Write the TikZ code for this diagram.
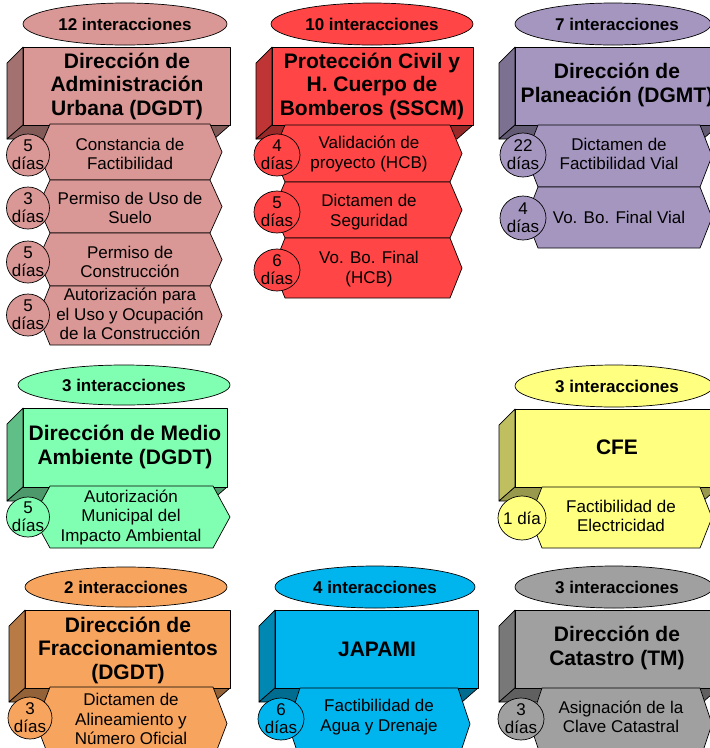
\documentclass[tikz,border=0pt]{standalone}
\usepackage{fontspec}
\setmainfont{Liberation Sans}
\definecolor{cRose}{HTML}{D99795}
\definecolor{cRed}{HTML}{FF4545}
\definecolor{cPurp}{HTML}{A596C0}
\definecolor{cMint}{HTML}{80FFB3}
\definecolor{cYel}{HTML}{FFFF80}
\definecolor{cOrg}{HTML}{F6A45E}
\definecolor{cBlue}{HTML}{00B4EE}
\definecolor{cGray}{HTML}{A0A0A0}
\tikzset{
 outl/.style={draw=black, line width=0.7pt, line join=round},
 ovtext/.style={font=\bfseries\fontsize{17}{19}\selectfont, align=center, inner sep=0pt},
 ttl/.style={font=\bfseries\fontsize{21}{23.5}\selectfont, align=center, inner sep=0pt},
 itm/.style={font=\fontsize{17}{19.5}\selectfont, align=center, inner sep=0pt},
 dys/.style={font=\fontsize{17}{18}\selectfont, align=center, inner sep=0pt},
}
\newcommand\mycube[5]{%
  \filldraw[outl, fill=#5!75!black] (#1,#2) -- ({#1-16},{#2+16}) -- ({#1-16},{#4+14}) -- (#1,#4) -- cycle;
  \filldraw[outl, fill=#5!60!black] (#1,#4) -- (#3,#4) -- ({#3-16},{#4+14}) -- ({#1-16},{#4+14}) -- cycle;
  \filldraw[outl, fill=#5] (#1,#2) rectangle (#3,#4);
}
\newcommand\myhex[6]{%
  \filldraw[outl, fill=#6] (#1,#2) -- (#3,#2) -- ({#3+#5},{(#2+#4)/2}) -- (#3,#4) -- (#1,#4) -- ({#1-#5},{(#2+#4)/2}) -- cycle;
}
\newcommand\myoval[5]{%
  \filldraw[outl, fill=#5] (#1,#2) ellipse [x radius=#3, y radius=#4];
}
\begin{document}
\begin{tikzpicture}[x=1pt,y=-1pt]
\useasboundingbox (0,0) rectangle (710,748);
\clip (0,0) rectangle (710,748);

% ---------- Block A ----------
\myoval{125}{24}{102}{21}{cRose}
\node[ovtext] (a0) at (125,24) {12 interacciones};
\mycube{23}{47}{230}{125}{cRose}
\node[ttl] (a1) at (127,86) {Dirección de\\Administración\\Urbana (DGDT)};
\myhex{50}{124}{210}{180}{12}{cRose}
\myhex{50}{180}{210}{233}{12}{cRose}
\myhex{50}{233}{210}{286}{12}{cRose}
\myhex{50}{286}{210}{345}{12}{cRose}
\node[itm] (a2) at (130,154) {Constancia de\\Factibilidad};
\node[itm] (a3) at (130,208) {Permiso de Uso de\\Suelo};
\node[itm] (a4) at (130,262) {Permiso de\\Construcción};
\node[itm] (a5) at (130,314) {Autorización para\\el Uso y Ocupación\\de la Construcción};
\myoval{28}{155}{21.5}{21}{cRose}
\myoval{28}{208}{21.5}{21}{cRose}
\myoval{28}{262}{21.5}{21}{cRose}
\myoval{28}{315}{21.5}{21}{cRose}
\node[dys] (a6) at (28,155) {5\\días};
\node[dys] (a7) at (28,208) {3\\días};
\node[dys] (a8) at (28,262) {5\\días};
\node[dys] (a9) at (28,315) {5\\días};

% ---------- Block B ----------
\myoval{372}{24}{101}{21}{cRed}
\node[ovtext] (b0) at (372,24) {10 interacciones};
\mycube{272}{47}{473}{125}{cRed}
\node[ttl] (b1) at (372,86) {Protección Civil y\\H. Cuerpo de\\Bomberos (SSCM)};
\myhex{285}{125}{450}{182}{12}{cRed}
\myhex{285}{182}{450}{238}{12}{cRed}
\myhex{285}{238}{450}{298}{12}{cRed}
\node[itm] (b2) at (369,154) {Validación de\\proyecto (HCB)};
\node[itm] (b3) at (369,212) {Dictamen de\\Seguridad};
\node[itm] (b4) at (369,269) {Vo. Bo. Final\\(HCB)};
\myoval{277}{155}{23}{21}{cRed}
\myoval{277}{212}{23}{21}{cRed}
\myoval{277}{270}{23}{21}{cRed}
\node[dys] (b5) at (277,155) {4\\días};
\node[dys] (b6) at (277,212) {5\\días};
\node[dys] (b7) at (277,270) {6\\días};

% ---------- Block C ----------
\myoval{613}{24}{98}{21}{cPurp}
\node[ovtext] (c0) at (617,24) {7 interacciones};
\mycube{515}{47}{719}{125}{cPurp}
\node[ttl] (c1) at (617,85) {Dirección de\\Planeación (DGMT)};
\myhex{538}{125}{700}{187}{12}{cPurp}
\myhex{538}{187}{700}{248}{12}{cPurp}
\node[itm] (c2) at (619,154) {Dictamen de\\Factibilidad Vial};
\node[itm] (c3) at (619,217) {Vo. Bo. Final Vial};
\myoval{523}{155}{23}{22}{cPurp}
\myoval{523}{218}{23}{22}{cPurp}
\node[dys] (c4) at (523,155) {22\\días};
\node[dys] (c5) at (523,218) {4\\días};

% ---------- Block D ----------
\myoval{124}{385}{106}{20}{cMint}
\node[ovtext] (d0) at (124,385) {3 interacciones};
\mycube{23}{408}{227}{487}{cMint}
\node[ttl] (d1) at (125,447) {Dirección de Medio\\Ambiente (DGDT)};
\myhex{50}{486}{213}{548}{17}{cMint}
\node[itm] (d2) at (131,517) {Autorización\\Municipal del\\Impacto Ambiental};
\myoval{28}{517}{21.5}{20}{cMint}
\node[dys] (d3) at (28,517) {5\\días};

% ---------- Block E ----------
\myoval{614}{386}{99}{21}{cYel}
\node[ovtext] (e0) at (617,386) {3 interacciones};
\mycube{515}{409}{719}{487}{cYel}
\node[ttl] (e1) at (617,447) {CFE};
\myhex{542}{487}{700}{548}{12}{cYel}
\node[itm] (e2) at (621,516) {Factibilidad de\\Electricidad};
\myoval{522}{518}{24}{22}{cYel}
\node[dys] (e3) at (522,518) {1 día};

% ---------- Block F ----------
\myoval{126}{587}{101}{20}{cOrg}
\node[ovtext] (f0) at (126,587) {2 interacciones};
\mycube{25}{610}{230}{688}{cOrg}
\node[ttl] (f1) at (128,650) {Dirección de\\Fraccionamientos\\(DGDT)};
\myhex{50}{687}{213}{760}{14}{cOrg}
\node[itm] (f2) at (131,719) {Dictamen de\\Alineamiento y\\Número Oficial};
\myoval{30}{718}{22}{21}{cOrg}
\node[dys] (f3) at (30,718) {3\\días};

% ---------- Block G ----------
\myoval{375}{587}{100}{21}{cBlue}
\node[ovtext] (g0) at (375,587) {4 interacciones};
\mycube{275}{610}{478}{688}{cBlue}
\node[ttl] (g1) at (377,649) {JAPAMI};
\myhex{300}{688}{458}{760}{12}{cBlue}
\node[itm] (g2) at (379,717) {Factibilidad de\\Agua y Drenaje};
\myoval{281}{719}{23}{21}{cBlue}
\node[dys] (g3) at (281,719) {6\\días};

% ---------- Block H ----------
\myoval{614}{587}{99}{21}{cGray}
\node[ovtext] (h0) at (617,587) {3 interacciones};
\mycube{515}{610}{719}{688}{cGray}
\node[ttl] (h1) at (617,648) {Dirección de\\Catastro (TM)};
\myhex{542}{688}{700}{760}{12}{cGray}
\node[itm] (h2) at (621,717) {Asignación de la\\Clave Catastral};
\myoval{521}{719}{23}{21}{cGray}
\node[dys] (h3) at (521,719) {3\\días};
\end{tikzpicture}
\end{document}
